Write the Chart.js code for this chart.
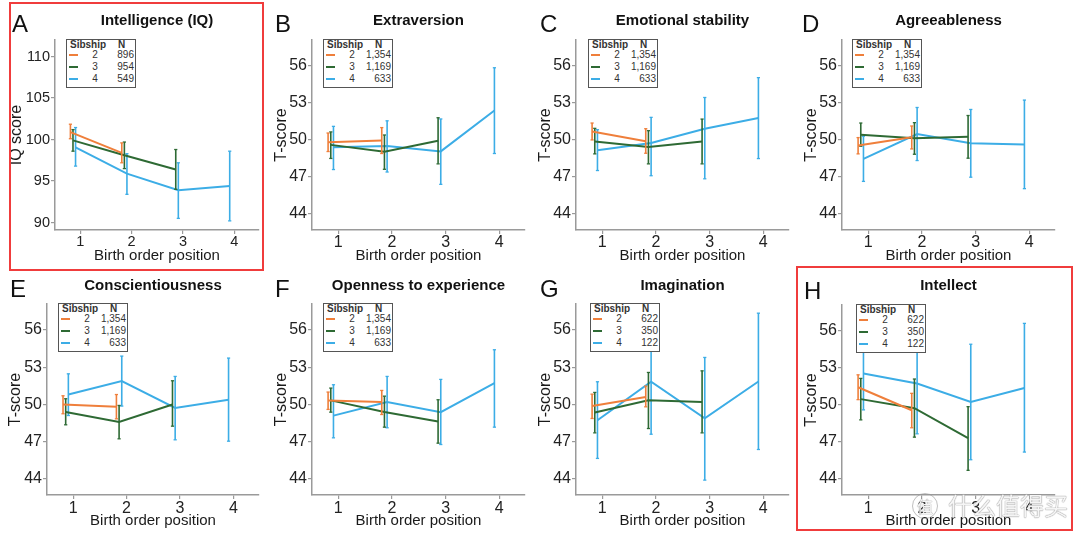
<!DOCTYPE html>
<html><head><meta charset="utf-8">
<script src="https://cdn.jsdelivr.net/npm/chart.js@4/dist/chart.umd.min.js"></script>
<style>
html,body{margin:0;padding:0;background:#fff;}
#root{position:relative;width:1080px;height:533px;overflow:hidden;background:#fff;font-family:"Liberation Sans",Arial,sans-serif;}
canvas{position:absolute;}
.letter{position:absolute;font-size:24px;line-height:24px;color:#111;}
.ptitle{position:absolute;font-weight:bold;font-size:15px;line-height:16px;color:#111;text-align:center;white-space:nowrap;}
.leg{position:absolute;width:70px;height:49px;border:1.5px solid #555;background:#fff;box-sizing:border-box;font-size:10px;line-height:10px;color:#333;}
.leg span{position:absolute;white-space:nowrap;}
.leg .sw{height:2px;width:9px;}
.redbox{position:absolute;border:2px solid #f03c3c;box-sizing:border-box;}
.wm{position:absolute;font-family:"Noto Sans CJK SC",sans-serif;color:rgba(255,255,255,0.92);text-shadow:0 0 1px #888,0 0 1px #888;white-space:nowrap;}
</style></head>
<body><div id="root"></div>
<script>
// ---------- data ----------
const panelLetters = ['A','B','C','D','E','F','G','H'];
const panelTitles = ['Intelligence (IQ)','Extraversion','Emotional stability','Agreeableness','Conscientiousness','Openness to experience','Imagination','Intellect'];
const yAxisTitles = ['IQ score','T-score','T-score','T-score','T-score','T-score','T-score','T-score'];
const xAxisTitle = 'Birth order position';
const birthOrder = [1,2,3,4];
const iqTicks = [90,95,100,105,110];
const tTicks = [44,47,50,53,56];
const sibshipSizes = ['2','3','4'];
const sibshipN = [
  ['896','954','549'],
  ['1,354','1,169','633'],['1,354','1,169','633'],['1,354','1,169','633'],
  ['1,354','1,169','633'],['1,354','1,169','633'],
  ['622','350','122'],['622','350','122']
];
const sib2Mean = [[100.9,98.4],[49.81,49.95],[50.68,49.9],[49.54,50.21],[50.0,49.81],[50.32,50.2],[49.87,50.6],[51.43,49.57]];
const sib2Low  = [[100.1,97.2],[49.06,48.9],[50.0,48.92],[48.87,49.27],[49.25,48.84],[49.6,49.19],[48.87,49.81],[50.43,48.15]];
const sib2High = [[101.85,99.6],[50.56,51.0],[51.37,50.91],[50.19,51.13],[50.7,50.8],[51.0,51.13],[50.83,51.48],[52.44,50.94]];
const sib3Mean = [[99.9,98.1,96.4],[49.6,49.05,49.94],[49.88,49.43,49.87],[50.42,50.13,50.26],[49.4,48.58,50.0],[50.33,49.4,48.63],[49.35,50.33,50.2],[50.47,49.74,47.3]];
const sib3Low  = [[98.6,96.5,94.0],[48.5,47.62,48.06],[48.87,48.06,48.06],[49.49,48.84,48.52],[48.36,47.23,48.25],[49.38,48.17,46.88],[47.71,48.06,47.71],[48.79,47.39,44.7]];
const sib3High = [[101.2,99.7,98.8],[50.65,50.4,51.8],[50.94,50.75,51.69],[51.37,51.4,51.98],[50.46,49.92,51.91],[51.32,50.67,50.38],[50.97,52.58,52.71],[52.15,52.1,49.86]];
const sib4Mean = [[99.05,95.9,93.9,94.4],[49.4,49.5,49.07,52.38],[49.16,49.75,50.91,51.77],[48.47,50.48,49.73,49.63],[50.81,51.88,49.72,50.38],[49.1,50.19,49.38,51.72],[48.73,51.83,48.88,51.85],[52.55,51.74,50.25,51.38]];
const sib4Low  = [[96.8,93.4,90.5,90.2],[47.6,47.4,46.4,48.9],[47.52,47.1,46.85,48.49],[46.64,48.33,46.98,46.05],[49.11,49.87,47.15,47.04],[47.31,48.12,46.77,48.17],[45.65,47.6,43.9,46.37],[49.6,47.66,45.56,46.18]];
const sib4High = [[101.45,98.3,97.2,98.6],[51.1,51.55,51.7,55.85],[50.83,51.83,53.44,55.05],[50.3,52.63,52.47,53.23],[52.47,53.9,52.26,53.74],[51.59,52.26,52.02,54.41],[51.83,56.0,53.79,57.36],[55.5,55.8,54.92,56.61]];

// ---------- layout / style ----------
const FONT = '"Liberation Sans", Arial, sans-serif';
const seriesColors = ['#ef7f3b','#2e6a34','#3cade6'];
const dodge = [-0.19,-0.14,-0.09];
const layout = [
  {l:55, t:40, r:259, b:230, ytx:17, xty:256, lg:11, row:0},
  {l:312,t:40, r:525, b:230, ytx:282,xty:256, lg:11, row:0},
  {l:576,t:40, r:789, b:230, ytx:546,xty:256, lg:12, row:0},
  {l:842,t:40, r:1055,b:230, ytx:812,xty:256, lg:10, row:0},
  {l:47, t:304,r:259, b:495, ytx:16, xty:521, lg:11, row:1},
  {l:312,t:304,r:525, b:495, ytx:282,xty:521, lg:11, row:1},
  {l:576,t:304,r:789, b:495, ytx:546,xty:521, lg:14, row:1},
  {l:842,t:305,r:1055,b:495, ytx:812,xty:521, lg:14, row:1}
];
const letterPos = [[12,12],[275,12],[540,12],[802,12],[10,277],[275,277],[540,277],[804,279]];

const root = document.getElementById('root');
const means = [sib2Mean,sib3Mean,sib4Mean], lows=[sib2Low,sib3Low,sib4Low], highs=[sib2High,sib3High,sib4High];

panelLetters.forEach((letter,p)=>{
  const L = layout[p];
  const cl = L.ytx-10, ct = L.t-10, cr = L.r+10, cb = L.xty+10;
  const cv = document.createElement('canvas');
  cv.width = cr-cl; cv.height = cb-ct;
  cv.style.left = cl+'px'; cv.style.top = ct+'px';
  cv.style.width = (cr-cl)+'px'; cv.style.height=(cb-ct)+'px';
  root.appendChild(cv);
  const Yw = L.l - cl, Xh = cb - L.b;
  const isIQ = p===0;
  const yt = isIQ ? iqTicks : tTicks;
  const datasets = [];
  [2,1,0].forEach(k=>{
    const m = means[k][p], lo = lows[k][p], hi = highs[k][p];
    const pts = m.map((v,i)=>({x: birthOrder[i]+dodge[k], y: v}));
    const eb = [];
    m.forEach((v,i)=>{ const x = birthOrder[i]+dodge[k]; eb.push({x,y:lo[i]},{x,y:hi[i]},{x,y:null}); });
    datasets.push({data: eb, borderColor: seriesColors[k], borderWidth:1.6, pointStyle:'line', pointRadius:1.6,
      pointBorderColor: seriesColors[k], pointBorderWidth:1.3, pointHoverRadius:0, spanGaps:false, showLine:true, order: k});
    datasets.push({data: pts, borderColor: seriesColors[k], borderWidth:2, pointRadius:0, pointHoverRadius:0, showLine:true, order: k});
  });
  const tickFont = {family: FONT, size: isIQ?14.5:16, lineHeight:1};
  new Chart(cv, {
    type:'line',
    data:{datasets},
    options:{
      responsive:false, animation:false, devicePixelRatio:1,
      events:[],
      layout:{padding:{top:10,right:10,left:0,bottom:0}},
      plugins:{legend:{display:false},tooltip:{enabled:false},title:{display:false}},
      scales:{
        x:{type:'linear', min:0.51, max:4.48,
          afterBuildTicks:s=>{ s.ticks = birthOrder.map(v=>({value:v})); },
          afterFit:s=>{ s.height = Xh; },
          grid:{drawOnChartArea:false, drawTicks:true, tickLength:4, color:'#9a9a9a', lineWidth:1.2},
          border:{display:true, color:'#9a9a9a', width:1.5},
          ticks:{font:tickFont, color:'#222', padding: L.row===0?1:2, maxRotation:0, callback:v=>String(v)},
          title:{display:true, text:xAxisTitle, color:'#1a1a1a', font:{family:FONT,size:15,lineHeight:1}, padding:{top:0,bottom:2.5}}
        },
        y:{type:'linear', min: isIQ?89.1:42.7, max: isIQ?112:58.1,
          afterBuildTicks:s=>{ s.ticks = yt.map(v=>({value:v})); },
          afterFit:s=>{ s.width = Yw; },
          grid:{drawOnChartArea:false, drawTicks:true, tickLength:4, color:'#9a9a9a', lineWidth:1.2},
          border:{display:true, color:'#9a9a9a', width:1.5},
          ticks:{font:tickFont, color:'#222', padding:1, callback:v=>String(v)},
          title:{display:true, text:yAxisTitles[p], color:'#1a1a1a', font:{family:FONT,size:16,lineHeight:1}, padding:{top:2,bottom:0}}
        }
      }
    }
  });
  // letter
  const le = document.createElement('div'); le.className='letter'; le.textContent=letter;
  le.style.left=letterPos[p][0]+'px'; le.style.top=letterPos[p][1]+'px'; root.appendChild(le);
  // title
  const ti = document.createElement('div'); ti.className='ptitle'; ti.textContent=panelTitles[p];
  ti.style.left=(L.l-40)+'px'; ti.style.width=(L.r-L.l+80)+'px'; ti.style.top=(L.row===0?12:277)+'px'; root.appendChild(ti);
  // legend
  const lg = document.createElement('div'); lg.className='leg';
  lg.style.left=(L.l+L.lg)+'px'; lg.style.top=(L.t-1)+'px';
  let html = '<span style="left:3px;top:0px;font-weight:bold;">Sibship</span><span style="left:51px;top:0px;font-weight:bold;">N</span>';
  sibshipSizes.forEach((s,k)=>{
    const top = 9.5 + k*12.4;
    html += `<span class="sw" style="left:2px;top:${top+4}px;background:${seriesColors[k]}"></span>`;
    html += `<span style="left:24px;width:8px;text-align:center;top:${top}px">${s}</span>`;
    html += `<span style="right:1px;top:${top}px;text-align:right">${sibshipN[p][k]}</span>`;
  });
  lg.innerHTML = html; root.appendChild(lg);
});

// red highlight boxes
[[9,2,255,269],[796,266,277,265]].forEach(b=>{
  const d=document.createElement('div'); d.className='redbox';
  d.style.left=b[0]+'px'; d.style.top=b[1]+'px'; d.style.width=b[2]+'px'; d.style.height=b[3]+'px'; root.appendChild(d);
});
// watermark
const w1=document.createElement('div'); w1.className='wm'; w1.textContent='值';
w1.style.cssText+='left:912px;top:493px;width:24px;height:24px;border-radius:50%;border:1.5px solid rgba(150,150,150,0.6);font-size:16px;line-height:24px;text-align:center;';
root.appendChild(w1);
const w2=document.createElement('div'); w2.className='wm'; w2.textContent='什么值得买';
w2.style.cssText+='left:948px;top:490px;font-size:24px;line-height:30px;';
root.appendChild(w2);
</script></body></html>
